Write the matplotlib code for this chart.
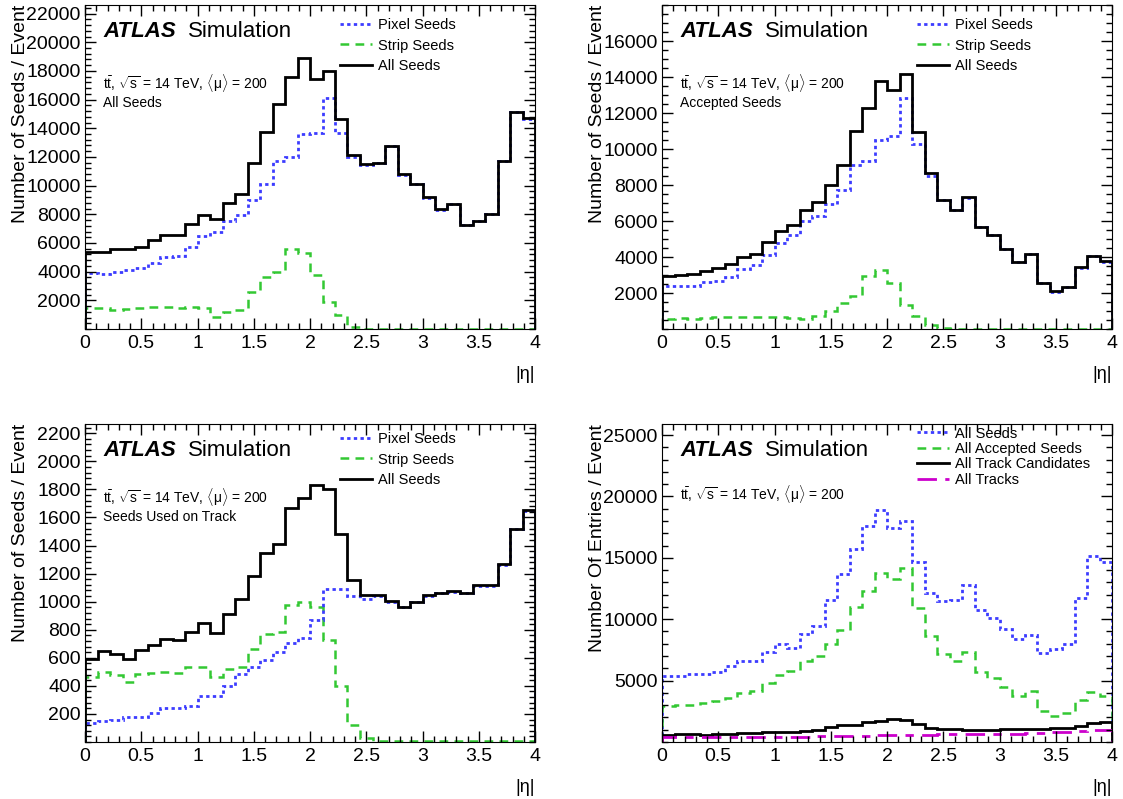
import matplotlib
matplotlib.use("Agg")
import matplotlib.pyplot as plt
import numpy as np
from matplotlib.lines import Line2D
from matplotlib.ticker import MultipleLocator, FuncFormatter

plt.rcParams["font.family"] = ["Liberation Sans", "DejaVu Sans"]
plt.rcParams["mathtext.fontset"] = "custom"
plt.rcParams["mathtext.rm"] = "Liberation Sans"
plt.rcParams["mathtext.it"] = "Liberation Sans:italic"
plt.rcParams["mathtext.bf"] = "Liberation Sans:bold"

# 36 bins in |eta| from 0 to 4
eta_edges = np.linspace(0, 4, 37)

# all seeds (top left)
all_pixel = [3880, 3810, 4000, 4120, 4280, 4580, 5000, 5090, 5740, 6490, 6740, 7530,
             7950, 9000, 10090, 11700, 12020, 13580, 13650, 16090, 13700, 12000,
             11470, 11580, 12770, 10770, 10120, 9170, 8330, 8700, 7240, 7540, 8000,
             11720, 15140, 14680]
all_strip = [1440, 1440, 1330, 1370, 1440, 1560, 1510, 1470, 1560, 1440, 860, 1210,
             1330, 2600, 3650, 4000, 5560, 5330, 3770, 1900, 980, 110, 20, 15, 15,
             15, 15, 15, 15, 15, 15, 15, 15, 15, 15, 15]
all_total = [5400, 5400, 5560, 5560, 5740, 6210, 6560, 6560, 7330, 7950, 7650, 8770,
             9420, 11600, 13720, 15700, 17560, 18880, 17440, 18000, 14630, 12120,
             11490, 11600, 12790, 10790, 10140, 9190, 8350, 8720, 7260, 7560, 8020,
             11740, 15160, 14700]

# accepted seeds (top right)
acc_pixel = [2410, 2370, 2410, 2610, 2690, 2890, 3330, 3540, 4110, 4780, 5220, 6020,
             6300, 6960, 7700, 9100, 9310, 10480, 10700, 12830, 10300, 8480, 7170,
             6610, 7290, 5650, 5220, 4440, 3700, 4170, 2540, 2070, 2310, 3410, 4050,
             3740]
acc_strip = [560, 610, 570, 610, 650, 670, 650, 650, 650, 670, 600, 560, 700, 980,
             1440, 1850, 2930, 3260, 2560, 1350, 700, 240, 30, 10, 10, 10, 10, 10, 10,
             10, 10, 10, 10, 10, 10, 10]
acc_total = [2960, 3000, 3040, 3200, 3370, 3610, 3980, 4170, 4830, 5460, 5800, 6590,
             7040, 7980, 9090, 10980, 12280, 13760, 13260, 14190, 10930, 8670, 7190,
             6630, 7310, 5670, 5240, 4460, 3720, 4190, 2560, 2090, 2330, 3430, 4070,
             3760]

# seeds used on track (bottom left)
used_pixel = [136, 153, 160, 176, 176, 207, 240, 240, 259, 325, 325, 401, 484, 531,
              586, 638, 702, 744, 867, 1087, 1087, 1040, 1017, 1040, 1000, 960, 995,
              1040, 1060, 1070, 1060, 1115, 1115, 1262, 1515, 1648]
used_strip = [460, 496, 477, 425, 484, 491, 496, 491, 531, 531, 460, 520, 536, 662,
              768, 782, 974, 998, 965, 725, 401, 122, 27, 6, 6, 6, 6, 6, 6, 6, 6, 6, 6,
              6, 6, 6]
used_total = [595, 650, 624, 595, 657, 692, 737, 728, 785, 851, 775, 910, 1017, 1182,
              1348, 1414, 1667, 1739, 1833, 1805, 1485, 1152, 1045, 1045, 1005, 965,
              998, 1045, 1064, 1073, 1064, 1118, 1118, 1265, 1518, 1651]

# tracks (bottom right)
tracks = [420, 410, 410, 420, 420, 420, 430, 430, 430, 440, 440, 440, 460, 470, 480,
          480, 490, 540, 560, 570, 580, 590, 640, 650, 660, 670, 680, 680, 690, 700,
          720, 780, 800, 870, 990, 1010]

BLUE = "#3c3cff"
GREEN = "#33c833"
MAG = "#cc00cc"
st_blue = dict(color=BLUE, lw=2.0, ls=(0, (1.2, 1.2)))
st_green = dict(color=GREEN, lw=1.8, ls=(0, (3.5, 2.5)))
st_black = dict(color="black", lw=2.0, ls="-")
st_mag = dict(color=MAG, lw=2.0, ls=(0, (7, 3, 3, 3)))

fig = plt.figure(figsize=(11.23, 7.99), dpi=100)
ax_tl = fig.add_axes([85 / 1123, 1 - 329 / 799, 450 / 1123, 324 / 799])
ax_tr = fig.add_axes([662 / 1123, 1 - 329 / 799, 450 / 1123, 324 / 799])
ax_bl = fig.add_axes([85 / 1123, 1 - 742 / 799, 450 / 1123, 318 / 799])
ax_br = fig.add_axes([662 / 1123, 1 - 742 / 799, 450 / 1123, 318 / 799])


def style(ax, ymax, ymajor, yminor, ylabel):
    ax.set_xlim(0, 4)
    ax.set_ylim(0, ymax)
    ax.xaxis.set_major_locator(MultipleLocator(0.5))
    ax.xaxis.set_minor_locator(MultipleLocator(0.1))
    ax.xaxis.set_major_formatter(FuncFormatter(lambda v, p: "%g" % v))
    ax.set_yticks(np.arange(ymajor, ymax, ymajor))
    ax.yaxis.set_minor_locator(MultipleLocator(yminor))
    ax.tick_params(which="both", direction="in", top=True, right=True, labelsize=14)
    ax.tick_params(which="major", length=8, width=1)
    ax.tick_params(which="minor", length=4, width=1)
    ax.tick_params(axis="x", pad=4)
    ax.tick_params(axis="y", pad=3)
    ax.set_ylabel(ylabel, fontsize=14, loc="top")
    ax.yaxis.set_label_coords(-0.125, 1.0)
    ax.set_xlabel("|η|", fontsize=13, loc="right")
    ax.xaxis.set_label_coords(1.0, -0.115)
    ax.text(0.04, 0.917, "ATLAS", fontsize=16, fontweight="bold", fontstyle="italic",
            va="center", transform=ax.transAxes)
    ax.text(0.229, 0.917, "Simulation", fontsize=16, va="center", transform=ax.transAxes)


def info(ax, y, sub=None):
    ax.text(0.04, y, r"$\mathrm{t\bar{t}}$, $\sqrt{\mathrm{s}}$ = 14 TeV, $\langle\mathrm{\mu}\rangle$ = 200",
            fontsize=10, va="center", transform=ax.transAxes)
    if sub:
        ax.text(0.04, y - 0.062, sub, fontsize=10, va="center", transform=ax.transAxes)


def legend(ax, styles, labels, top, spacing):
    handles = [Line2D([], [], **s) for s in styles]
    ax.legend(handles, labels, loc="upper left", bbox_to_anchor=(0.567, top),
              frameon=False, fontsize=10.5, handlelength=2.2, handletextpad=0.4,
              borderpad=0, borderaxespad=0, labelspacing=spacing)


seed_labels = ["Pixel Seeds", "Strip Seeds", "All Seeds"]
seed_styles = [st_blue, st_green, st_black]

# top left: all seeds
ax_tl.stairs(all_strip, eta_edges, **st_green)
ax_tl.stairs(all_pixel, eta_edges, **st_blue)
ax_tl.stairs(all_total, eta_edges, **st_black)
style(ax_tl, 22600, 2000, 400, "Number of Seeds / Event")
info(ax_tl, 0.76, "All Seeds")
legend(ax_tl, seed_styles, seed_labels, 0.96, 0.45)

# top right: accepted seeds
ax_tr.stairs(acc_strip, eta_edges, **st_green)
ax_tr.stairs(acc_pixel, eta_edges, **st_blue)
ax_tr.stairs(acc_total, eta_edges, **st_black)
style(ax_tr, 18000, 2000, 500, "Number of Seeds / Event")
info(ax_tr, 0.76, "Accepted Seeds")
legend(ax_tr, seed_styles, seed_labels, 0.96, 0.45)

# bottom left: seeds used on track
ax_bl.stairs(used_strip, eta_edges, **st_green)
ax_bl.stairs(used_pixel, eta_edges, **st_blue)
ax_bl.stairs(used_total, eta_edges, **st_black)
style(ax_bl, 2266, 200, 40, "Number of Seeds / Event")
info(ax_bl, 0.77, "Seeds Used on Track")
legend(ax_bl, seed_styles, seed_labels, 0.975, 0.45)

# bottom right: all entries
ax_br.stairs(all_total, eta_edges, **st_blue)
ax_br.stairs(acc_total, eta_edges, **st_green)
ax_br.stairs(used_total, eta_edges, **st_black)
ax_br.stairs(tracks, eta_edges, **st_mag)
style(ax_br, 25900, 5000, 1000, "Number Of Entries / Event")
info(ax_br, 0.78)
legend(ax_br, [st_blue, st_green, st_black, st_mag],
       ["All Seeds", "All Accepted Seeds", "All Track Candidates", "All Tracks"],
       0.992, 0.1)

fig.savefig("out.png", dpi=100)
